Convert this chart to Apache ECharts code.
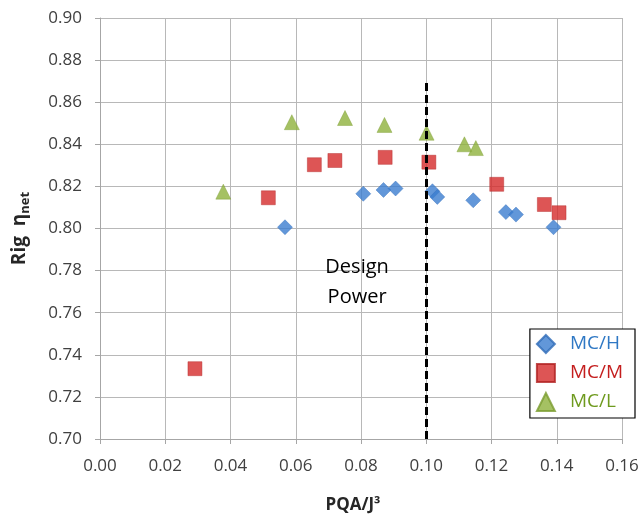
<!DOCTYPE html>
<html><head><meta charset="utf-8">
<script src="https://cdn.jsdelivr.net/npm/echarts@6/dist/echarts.min.js"></script>
<style>html,body{margin:0;padding:0;background:#fff}#c{width:644px;height:514px}</style>
</head><body><div id="c"></div>
<script>
const seriesNames = ['MC/H', 'MC/M', 'MC/L'];
const mcH = [[0.0567,0.8006],[0.0807,0.8165],[0.0869,0.8183],[0.0906,0.8190],[0.1019,0.8177],[0.1034,0.8150],[0.1144,0.8134],[0.1244,0.8078],[0.1275,0.8066],[0.1390,0.8006]];
const mcM = [[0.0291,0.7334],[0.0516,0.8146],[0.0657,0.8303],[0.0720,0.8323],[0.0874,0.8338],[0.1008,0.8315],[0.1216,0.8210],[0.1362,0.8114],[0.1407,0.8075]];
const mcL = [[0.0378,0.8175],[0.0588,0.8505],[0.0751,0.8525],[0.0872,0.8492],[0.1001,0.8455],[0.1117,0.8400],[0.1152,0.8382]];
const designX = 0.10;
const designLineTop = 0.87;
const xTicks = {min:0, max:0.16, interval:0.02};
const yTicks = {min:0.70, max:0.90, interval:0.02};

const font = 'Open Sans';
const chart = echarts.init(document.getElementById('c'));
chart.setOption({
  animation:false,
  textStyle:{fontFamily:font},
  grid:{left:100, right:22, top:18, bottom:75, containLabel:false, outerBoundsMode:'none'},
  legend:{
    orient:'vertical', right:9, top:329,
    itemWidth:18, itemHeight:18, itemGap:9,
    padding:[5,12,6,6],
    borderColor:'#000', borderWidth:1.2, backgroundColor:'#fff',
    data:[
      {name:'MC/H', textStyle:{color:'#2f78c4'}},
      {name:'MC/M', textStyle:{color:'#c41e1e'}},
      {name:'MC/L', textStyle:{color:'#6e9a1e'}}
    ],
    textStyle:{fontSize:19, fontFamily:font, padding:[0,0,0,10]}
  },
  xAxis:{
    type:'value', min:xTicks.min, max:xTicks.max, interval:xTicks.interval,
    name:'PQA/J³', nameLocation:'middle', nameGap:58,
    nameTextStyle:{fontSize:17, fontWeight:'bold', color:'#262626', padding:[0,16,0,0]},
    axisLine:{show:true, lineStyle:{color:'#a6a6a6'}},
    axisTick:{show:true, length:5, lineStyle:{color:'#a6a6a6'}},
    splitLine:{show:true, lineStyle:{color:'#b8b8b8'}},
    axisLabel:{fontSize:17, color:'#404040', margin:19, formatter:v=>v.toFixed(2)}
  },
  yAxis:{
    type:'value', min:yTicks.min, max:yTicks.max, interval:yTicks.interval,
    name:'{a|Rig  η}{b|net}', nameLocation:'middle', nameGap:68,
    nameTextStyle:{rich:{a:{fontSize:19, fontWeight:'bold', color:'#262626', fontFamily:font}, b:{fontSize:13, fontWeight:'bold', color:'#262626', padding:[12,0,0,0], fontFamily:font}}},
    axisLine:{show:true, lineStyle:{color:'#a6a6a6'}},
    axisTick:{show:true, length:5, lineStyle:{color:'#a6a6a6'}},
    splitLine:{show:true, lineStyle:{color:'#b8b8b8'}},
    axisLabel:{fontSize:17, color:'#404040', margin:18, formatter:v=>v.toFixed(2)}
  },
  series:[
    {name:'MC/H', type:'scatter', data:mcH, symbol:'diamond', symbolSize:15,
      itemStyle:{color:'#3b7dd0', borderColor:'#2f6cb8', borderWidth:0.5},
      markLine:{silent:true, symbol:'none', label:{show:false},
        lineStyle:{color:'#000', type:[8,4], width:3},
        data:[[{coord:[designX, yTicks.min]},{coord:[designX, designLineTop]}]]},
      markPoint:{silent:true, symbol:'circle', symbolSize:0,
        label:{show:true, formatter:'Design\nPower', fontSize:20, lineHeight:30, color:'#000', fontFamily:font},
        data:[{coord:[0.0788, 0.7745]}]}
    },
    {name:'MC/M', type:'scatter', data:mcM, symbol:'rect', symbolSize:14,
      itemStyle:{color:'#d42a2a', borderColor:'#b02020', borderWidth:0.5}},
    {name:'MC/L', type:'scatter', data:mcL, symbol:'triangle', symbolSize:15,
      itemStyle:{color:'#8fb23c', borderColor:'#7a9c30', borderWidth:0.5}}
  ]
});
</script></body></html>
